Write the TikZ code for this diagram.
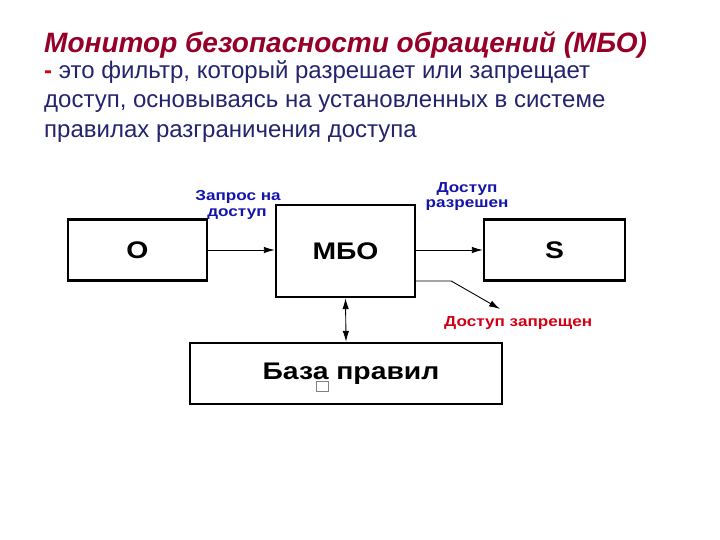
\documentclass[tikz,border=0pt]{standalone}
\usepackage{fontspec}
\setmainfont{Liberation Sans}
\newfontfamily\diagfont{Liberation Sans}[FakeStretch=1.18]
\usepackage{tikz}
\usetikzlibrary{arrows.meta}

\definecolor{titlered}{RGB}{150,0,40}
\definecolor{textnavy}{RGB}{35,35,110}
\definecolor{labelblue}{RGB}{20,20,170}
\definecolor{labelred}{RGB}{210,0,20}

\begin{document}
\begin{tikzpicture}[x=1pt, y=-1pt,
    box/.style={draw, line width=2.4pt, rectangle, inner sep=0pt, font=\diagfont\bfseries\fontsize{24}{28}\selectfont},
    tip/.style={Latex[length=11pt, width=6.5pt]},
    conn/.style={line width=0.9pt, -{Latex[length=11pt, width=6.5pt]}},
    lbl/.style={font=\diagfont\bfseries\fontsize{14.5}{16}\selectfont, inner sep=0pt, anchor=base},
    body/.style={anchor=base west, inner sep=0pt, text=textnavy, font=\fontsize{24}{29}\selectfont}
  ]
    \useasboundingbox (0,0) rectangle (720,540);

    % heading text
    \node[anchor=base west, inner sep=0pt, text=titlered, font=\fontsize{28}{32}\selectfont\bfseries\itshape] (title) at (44,53)
        {Монитор безопасности обращений (МБО)};
    \node[body] (defa) at (44,79) {\textcolor{labelred}{\textbf{-}} это фильтр, который разрешает или запрещает};
    \node[body] (defb) at (44,108) {доступ, основываясь на установленных в системе};
    \node[body] (defc) at (44,137.5) {правилах разграничения доступа};

    % boxes
    \node[box, minimum width=139, minimum height=61] (subj) at (137.5,250) {O};
    \node[box, minimum width=139, minimum height=92] (mbo) at (345.5,251) {МБО};
    \node[box, minimum width=141, minimum height=61] (obj) at (554.5,250) {S};
    \node[box, minimum width=312, minimum height=61] (rules) at (346,373.5) {\hspace*{10pt}База правил};
    \draw[gray, line width=0.6pt] (316,381) rectangle (328,391);

    % connectors
    \draw[conn] (subj.east) -- (subj.east -| mbo.west);
    \draw[conn] (mbo.east |- obj.west) -- (obj.west);
    \coordinate (denyend) at (500,309);
    \draw[conn] ([yshift=-30pt]mbo.east) -- ++(35,0) -- (denyend);
    \draw[line width=0.9pt, {Latex[length=11pt, width=6.5pt]}-{Latex[length=11pt, width=6.5pt]}] (mbo.south) -- (rules.north);

    % labels
    \node[lbl, text=labelblue] (reqa) at (238,200.5) {Запрос на};
    \node[lbl, text=labelblue] (reqb) at (237,216.5) {доступ};
    \node[lbl, text=labelblue] (oka) at (467,192.5) {Доступ};
    \node[lbl, text=labelblue] (okb) at (467,207.5) {разрешен};
    \node[lbl, text=labelred, anchor=base west] (nolbl) at (444,326) {Доступ запрещен};
\end{tikzpicture}
\end{document}
